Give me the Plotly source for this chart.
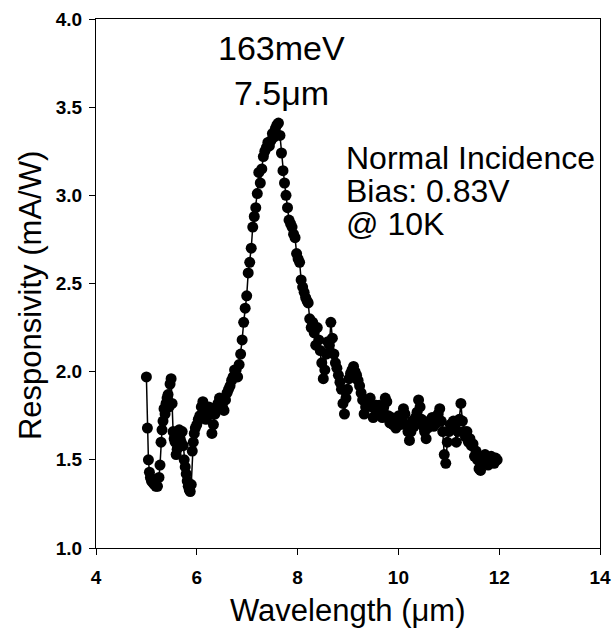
import plotly.graph_objects as go

wavelength = [
    5.00, 5.02, 5.04, 5.06, 5.08, 5.10, 5.13, 5.16, 5.19, 5.22, 5.25, 5.27, 5.29, 5.31, 5.33, 5.35,
    5.37, 5.39, 5.41, 5.43, 5.45, 5.47, 5.49, 5.51, 5.53, 5.55, 5.57, 5.59, 5.61, 5.63, 5.65, 5.67,
    5.69, 5.71, 5.73, 5.75, 5.77, 5.79, 5.81, 5.83, 5.85, 5.87, 5.89, 5.91, 5.93, 5.95, 5.97, 6.00,
    6.03, 6.06, 6.09, 6.12, 6.15, 6.18, 6.21, 6.24, 6.27, 6.30, 6.33, 6.36, 6.39, 6.42, 6.45, 6.48,
    6.51, 6.54, 6.57, 6.60, 6.63, 6.66, 6.69, 6.72, 6.75, 6.78, 6.81, 6.84, 6.87, 6.90, 6.93, 6.96,
    6.99, 7.02, 7.05, 7.08, 7.11, 7.14, 7.17, 7.20, 7.23, 7.26, 7.29, 7.32, 7.35, 7.38, 7.41, 7.44,
    7.47, 7.50, 7.53, 7.56, 7.59, 7.62, 7.65, 7.68, 7.71, 7.74, 7.77, 7.80, 7.83, 7.86, 7.89, 7.92,
    7.95, 7.98, 8.01, 8.04, 8.07, 8.10, 8.13, 8.16, 8.19, 8.21, 8.24, 8.27, 8.30, 8.33, 8.36, 8.39,
    8.42, 8.45, 8.48, 8.51, 8.54, 8.57, 8.60, 8.63, 8.66, 8.69, 8.72, 8.75, 8.78, 8.81, 8.84, 8.87,
    8.90, 8.93, 8.96, 8.99, 9.02, 9.05, 9.08, 9.11, 9.14, 9.17, 9.20, 9.23, 9.26, 9.29, 9.32, 9.35,
    9.38, 9.41, 9.44, 9.47, 9.50, 9.53, 9.56, 9.59, 9.62, 9.65, 9.68, 9.71, 9.74, 9.77, 9.80, 9.83,
    9.86, 9.89, 9.92, 9.95, 9.98, 10.01, 10.04, 10.07, 10.10, 10.13, 10.16, 10.19, 10.22, 10.25, 10.28, 10.31,
    10.34, 10.37, 10.40, 10.43, 10.46, 10.49, 10.52, 10.55, 10.58, 10.61, 10.64, 10.67, 10.70, 10.73, 10.76, 10.79,
    10.82, 10.85, 10.88, 10.91, 10.94, 10.97, 11.00, 11.03, 11.06, 11.09, 11.12, 11.15, 11.18, 11.21, 11.24, 11.27,
    11.30, 11.33, 11.36, 11.39, 11.42, 11.45, 11.48, 11.51, 11.54, 11.57, 11.60, 11.63, 11.66, 11.69, 11.72, 11.75,
    11.78, 11.81, 11.84, 11.87, 11.90, 11.93, 11.96,
]

responsivity = [
    1.97, 1.68, 1.50, 1.43, 1.40, 1.38, 1.37, 1.36, 1.35, 1.35, 1.40, 1.47, 1.60, 1.67, 1.72, 1.79,
    1.76, 1.82, 1.85, 1.87, 1.80, 1.93, 1.96, 1.82, 1.66, 1.62, 1.60, 1.53, 1.56, 1.61, 1.67, 1.62,
    1.60, 1.66, 1.58, 1.50, 1.46, 1.42, 1.38, 1.35, 1.33, 1.32, 1.36, 1.55, 1.60, 1.65, 1.68, 1.70,
    1.73, 1.75, 1.80, 1.83, 1.78, 1.73, 1.76, 1.80, 1.76, 1.65, 1.70, 1.76, 1.80, 1.82, 1.85, 1.83,
    1.80, 1.78, 1.84, 1.88, 1.90, 1.92, 1.95, 1.97, 2.01, 2.01, 1.97, 2.04, 2.10, 2.18, 2.28, 2.36,
    2.43, 2.56, 2.62, 2.70, 2.82, 2.88, 2.93, 3.01, 3.13, 3.07, 3.15, 3.22, 3.25, 3.27, 3.30, 3.28,
    3.31, 3.35, 3.33, 3.38, 3.40, 3.41, 3.34, 3.24, 3.14, 3.07, 3.00, 2.93, 2.86, 2.84, 2.82, 2.78,
    2.76, 2.67, 2.64, 2.62, 2.52, 2.48, 2.45, 2.42, 2.40, 2.39, 2.30, 2.25, 2.28, 2.22, 2.15, 2.25,
    2.18, 2.12, 2.05, 1.96, 2.01, 2.10, 2.17, 2.15, 2.28, 2.19, 2.10, 2.05, 2.02, 1.98, 1.94, 1.90,
    1.82, 1.76, 1.85, 1.90, 1.96, 1.99, 2.01, 2.03, 2.00, 1.98, 1.95, 1.92, 1.88, 1.84, 1.76, 1.80,
    1.84, 1.82, 1.85, 1.80, 1.74, 1.79, 1.81, 1.78, 1.81, 1.76, 1.74, 1.80, 1.85, 1.83, 1.75, 1.71,
    1.74, 1.70, 1.73, 1.68, 1.72, 1.75, 1.70, 1.74, 1.79, 1.76, 1.70, 1.66, 1.61, 1.66, 1.72, 1.69,
    1.74, 1.77, 1.84, 1.80, 1.73, 1.69, 1.66, 1.62, 1.68, 1.72, 1.70, 1.74, 1.69, 1.73, 1.71, 1.76,
    1.79, 1.72, 1.66, 1.53, 1.48, 1.60, 1.66, 1.70, 1.68, 1.72, 1.69, 1.60, 1.66, 1.73, 1.82, 1.72,
    1.66, 1.63, 1.66, 1.60, 1.62, 1.58, 1.59, 1.52, 1.55, 1.50, 1.45, 1.44, 1.48, 1.52, 1.53, 1.50,
    1.47, 1.50, 1.52, 1.49, 1.48, 1.51, 1.50,
]

x_ticks = [4, 6, 8, 10, 12, 14]
y_ticks = [1.0, 1.5, 2.0, 2.5, 3.0, 3.5, 4.0]
peak_lines = ["163meV", "7.5\u03bcm"]
peak_line_y = [3.835, 3.58]
condition_lines = ["Normal Incidence", "Bias: 0.83V", "@ 10K"]
condition_line_y = [3.21, 3.025, 2.84]
x_title = "Wavelength (\u03bcm)"
y_title = "Responsivity (mA/W)"

FONT = "Liberation Sans, Arial, sans-serif"

fig = go.Figure()
fig.add_trace(go.Scatter(
    x=wavelength, y=responsivity, mode="lines+markers",
    line=dict(color="black", width=1.5),
    marker=dict(color="black", size=11, line=dict(width=0)),
    showlegend=False,
))

for txt, yv in zip(peak_lines, peak_line_y):
    fig.add_annotation(x=7.69, y=yv, xref="x", yref="y", text=txt,
                       showarrow=False, xanchor="center", yanchor="middle",
                       font=dict(family=FONT, size=34, color="black"))
for txt, yv in zip(condition_lines, condition_line_y):
    fig.add_annotation(x=8.98, y=yv, xref="x", yref="y", text=txt,
                       showarrow=False, xanchor="left", yanchor="middle", xshift=-3,
                       font=dict(family=FONT, size=32, color="black"))

# axis titles as paper-anchored annotations for exact placement
fig.add_annotation(x=0.5, y=-0.119, xref="paper", yref="paper", text=x_title,
                   showarrow=False, xanchor="center", yanchor="middle",
                   font=dict(family=FONT, size=31, color="black"))
fig.add_annotation(x=-0.131, y=0.478, xref="paper", yref="paper", text=y_title,
                   showarrow=False, xanchor="center", yanchor="middle", textangle=-90,
                   font=dict(family=FONT, size=31, color="black"))

axis_common = dict(
    showline=True, linecolor="black", linewidth=1, mirror=True,
    ticks="outside", ticklen=6, tickwidth=1, tickcolor="black",
    showgrid=False, zeroline=False, automargin=False,
    tickfont=dict(family=FONT, size=19, color="black"),
)

fig.update_xaxes(range=[4, 14], tickvals=x_ticks, ticktext=[f"<b>{v}</b>" for v in x_ticks],
                 ticklabelstandoff=6, **axis_common)
fig.update_yaxes(range=[1.0, 4.0], tickvals=y_ticks, ticktext=[f"<b>{v:.1f}</b>" for v in y_ticks],
                 ticklabelstandoff=3, **axis_common)

fig.update_layout(
    width=613, height=637,
    margin=dict(l=96, r=13, t=19, b=89),
    plot_bgcolor="white", paper_bgcolor="white",
    font=dict(family=FONT, color="black"),
)

# remove the default page margin so the figure fills the window exactly
fig.write_html("out.html",
               config={"displayModeBar": False},
               post_script="document.body.style.margin='0';document.body.style.overflow='hidden';")
